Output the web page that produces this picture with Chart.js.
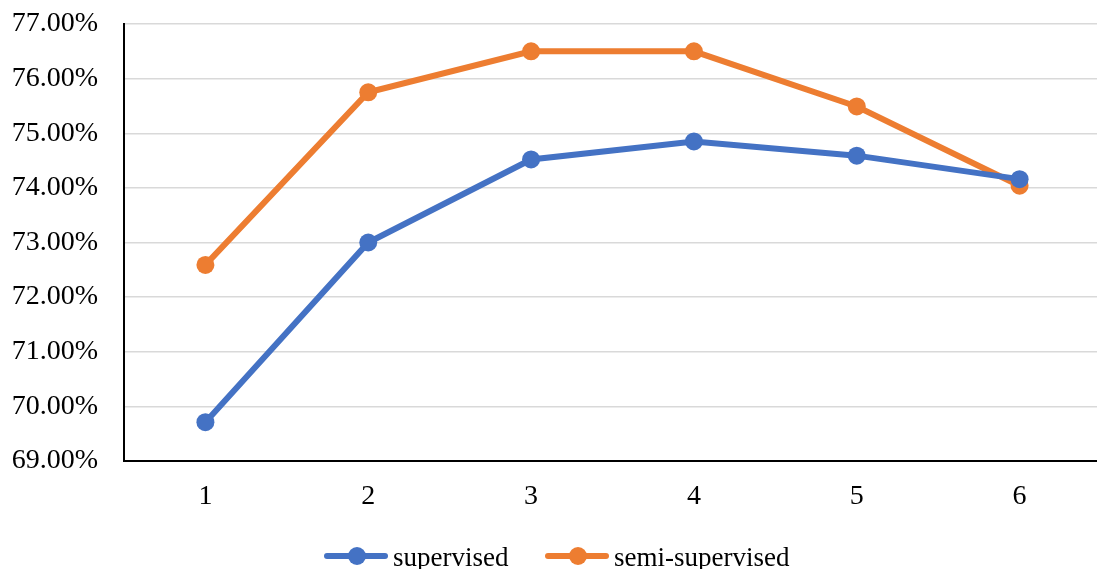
<!DOCTYPE html>
<html>
<head>
<meta charset="utf-8">
<script src="https://cdn.jsdelivr.net/npm/chart.js@4/dist/chart.umd.min.js"></script>
<style>
html,body{margin:0;padding:0;background:#fff;overflow:hidden;width:1097px;height:569px;}
#wrap{position:absolute;left:0;top:0;width:1110px;height:569px;}
#legend{position:absolute;top:536px;left:0;width:1097px;height:40px;font-family:"Liberation Serif","Times New Roman",serif;font-size:27px;color:#000;}
.item{position:absolute;top:0;height:40px;line-height:40px;white-space:nowrap;}
.mk{position:absolute;top:17px;left:0;width:64px;height:6px;border-radius:3px;}
.dot{position:absolute;top:11px;left:24px;width:18px;height:18px;border-radius:50%;}
.lbl{position:absolute;left:69px;top:1px;}
</style>
</head>
<body>
<div id="wrap"><canvas id="c" width="1110" height="569"></canvas></div>
<div id="legend"></div>
<script>
const categories = ["1", "2", "3", "4", "5", "6"];
const supervised = [69.71, 73.00, 74.52, 74.85, 74.59, 74.16];
const semiSupervised = [72.59, 75.75, 76.50, 76.50, 75.49, 74.04];
const seriesNames = ["supervised", "semi-supervised"];
const seriesColors = ["#4472C4", "#ED7D31"];
const yMin = 69, yMax = 77, yStep = 1;

const FONT = "'Liberation Serif', 'Times New Roman', serif";

const legendPos = [324, 545];
const leg = document.getElementById('legend');
seriesNames.forEach((n, i) => {
  const it = document.createElement('div');
  it.className = 'item';
  it.style.left = legendPos[i] + 'px';
  it.innerHTML = '<div class="mk" style="background:' + seriesColors[i] + '"></div>' +
    '<div class="dot" style="background:' + seriesColors[i] + '"></div>' +
    '<span class="lbl">' + n + '</span>';
  leg.appendChild(it);
});

const mkDs = (label, data, color) => ({
  label, data,
  borderColor: color, backgroundColor: color,
  borderWidth: 6, pointRadius: 9, pointHoverRadius: 9,
  pointBorderWidth: 0, tension: 0
});

new Chart(document.getElementById('c'), {
  type: 'line',
  data: {
    labels: categories,
    datasets: [
      mkDs(seriesNames[0], supervised, seriesColors[0]),
      mkDs(seriesNames[1], semiSupervised, seriesColors[1])
    ]
  },
  options: {
    responsive: false,
    animation: false,
    events: [],
    layout: { padding: { top: 24, left: 0, right: 0, bottom: 0 } },
    plugins: { legend: { display: false }, tooltip: { enabled: false } },
    scales: {
      x: {
        offset: true,
        grid: { display: false, drawTicks: false },
        border: { display: true, color: '#000', width: 2 },
        ticks: { color: '#000', font: { family: FONT, size: 28 }, padding: 19 },
        afterFit: (s) => { s.height = 108; s.paddingLeft = 0; s.paddingRight = 0; }
      },
      y: {
        min: yMin, max: yMax,
        grid: { color: '#d9d9d9', lineWidth: 1.5, drawTicks: false },
        border: { display: true, color: '#000', width: 2 },
        ticks: {
          stepSize: yStep, color: '#000', padding: 26,
          font: { family: FONT, size: 28 },
          callback: (v) => v.toFixed(2) + '%'
        },
        afterFit: (s) => { s.width = 124; s.paddingTop = 0; s.paddingBottom = 0; }
      }
    }
  }
});
</script>
</body>
</html>
